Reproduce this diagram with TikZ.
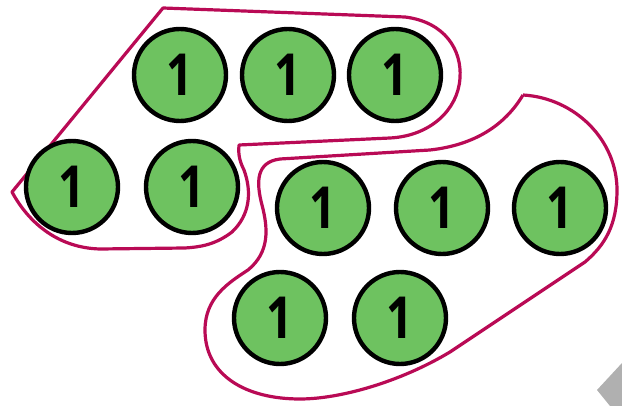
\documentclass[tikz,border=0pt]{standalone}
\usepackage{fontspec}
\newfontfamily\onefont{Open Sans}[BoldFont={Open Sans Bold}]
\definecolor{coin}{RGB}{110,194,96}
\definecolor{rim}{RGB}{185,10,85}
\definecolor{cornergrey}{RGB}{176,176,176}
\newcommand{\narrowone}{\scalebox{0.8}[1.0]{1}}
\tikzset{
  coinnode/.style={circle,draw=black,line width=4.4pt,fill=coin,minimum size=92pt,inner sep=0pt,
    font=\onefont\bfseries\fontsize{58}{58}\selectfont},
  groupline/.style={draw=rim,line width=3.2pt,line join=round}
}
\begin{document}
\begin{tikzpicture}[x=1pt,y=-1pt]
\useasboundingbox (0,0) rectangle (622,406);
% group outlines
\draw[groupline] (163,8) -- (405,17) .. controls (445,22) and (462,50) .. (460,78)
  .. controls (458,110) and (430,136) .. (390,138) -- (239,145)
  .. controls (238,155) and (240,162) .. (244,170)
  .. controls (252,192) and (250,215) .. (232,232)
  .. controls (215,245) and (200,247) .. (185,248) -- (100,249)
  .. controls (60,248) and (30,225) .. (12,192) -- cycle;
\draw[groupline] (523,95) .. controls (575,98) and (617,140) .. (617,190)
  .. controls (617,225) and (605,245) .. (585,262) -- (450,352)
  .. controls (400,382) and (340,399) .. (300,399)
  .. controls (245,399) and (205,375) .. (205,330)
  .. controls (205,298) and (228,283) .. (248,270)
  .. controls (270,252) and (268,228) .. (262,205)
  .. controls (256,182) and (256,162) .. (280,159) -- (430,150)
  .. controls (475,145) and (505,125) .. (523,95);
% coins
\node[coinnode] (a1) at (180,75) {\narrowone};
\node[coinnode] (a2) at (288,75) {\narrowone};
\node[coinnode] (a3) at (395,75) {\narrowone};
\node[coinnode] (a4) at (72,187) {\narrowone};
\node[coinnode] (a5) at (192,187) {\narrowone};
\node[coinnode] (b1) at (323,208) {\narrowone};
\node[coinnode] (b2) at (442,208) {\narrowone};
\node[coinnode] (b3) at (560,208) {\narrowone};
\node[coinnode] (b4) at (280,318) {\narrowone};
\node[coinnode] (b5) at (400,318) {\narrowone};
% grey corner shape
\fill[cornergrey] (597,390) -- (622,363) -- (622,406) -- (610,406) -- cycle;
\end{tikzpicture}
\end{document}
